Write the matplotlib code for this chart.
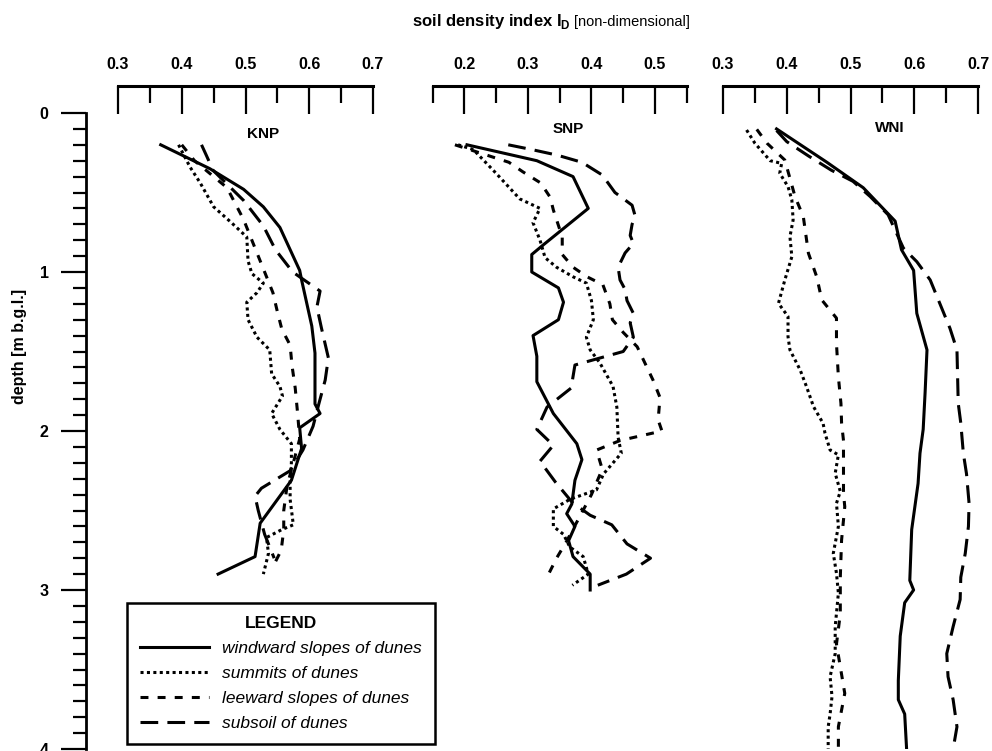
import matplotlib
matplotlib.use("Agg")
import matplotlib.pyplot as plt
from matplotlib.ticker import FixedLocator, MultipleLocator

plt.rcParams['font.family'] = ['Liberation Sans', 'DejaVu Sans']
plt.rcParams['mathtext.fontset'] = 'custom'
plt.rcParams['mathtext.rm'] = 'Liberation Sans'

sites = ["KNP", "SNP", "WNI"]
series_names = ["windward slopes of dunes", "summits of dunes",
                "leeward slopes of dunes", "subsoil of dunes"]

# --- KNP ---
knp_wind_d = [0.2, 0.35, 0.48, 0.59, 0.72, 0.99, 1.05, 1.34, 1.51, 1.83, 1.89, 1.98, 2.11, 2.31, 2.58, 2.79, 2.9]
knp_wind_v = [0.367, 0.444, 0.497, 0.528, 0.554, 0.585, 0.588, 0.604, 0.609, 0.609, 0.617, 0.585, 0.588, 0.572, 0.523, 0.515, 0.457]
knp_sum_d = [0.2, 0.34, 0.44, 0.59, 0.69, 0.78, 0.93, 1.01, 1.07, 1.13, 1.19, 1.3, 1.41, 1.49, 1.64, 1.72, 1.78, 1.89,
             1.99, 2.08, 2.2, 2.31, 2.43, 2.59, 2.62, 2.67, 2.77, 2.9]
knp_sum_v = [0.395, 0.413, 0.429, 0.45, 0.478, 0.502, 0.504, 0.51, 0.528, 0.518, 0.502, 0.504, 0.518, 0.538, 0.541,
             0.554, 0.558, 0.541, 0.554, 0.572, 0.572, 0.57, 0.57, 0.575, 0.557, 0.533, 0.536, 0.528]
knp_lee_d = [0.2, 0.3, 0.47, 0.67, 0.85, 1.0, 1.13, 1.25, 1.36, 1.46, 1.59, 1.73, 1.9, 2.05, 2.2, 2.35, 2.5, 2.62, 2.75, 2.87]
knp_lee_v = [0.40, 0.42, 0.471, 0.497, 0.515, 0.53, 0.543, 0.55, 0.557, 0.57, 0.573, 0.578, 0.582, 0.585, 0.575, 0.565,
             0.56, 0.56, 0.556, 0.541]
knp_sub_d = [0.2, 0.27, 0.36, 0.55, 0.71, 0.86, 1.0, 1.12, 1.22, 1.35, 1.54, 1.68, 1.83, 1.97, 2.12, 2.25, 2.36, 2.41,
             2.5, 2.65, 2.8]
knp_sub_v = [0.431, 0.439, 0.449, 0.497, 0.528, 0.547, 0.574, 0.617, 0.612, 0.619, 0.63, 0.625, 0.615, 0.606, 0.59,
             0.57, 0.525, 0.515, 0.52, 0.53, 0.545]

# --- SNP ---
snp_wind_d = [0.2, 0.3, 0.4, 0.6, 0.83, 0.89, 1.0, 1.1, 1.19, 1.3, 1.4, 1.53, 1.69, 1.89, 2.08, 2.18, 2.31, 2.46,
              2.52, 2.6, 2.69, 2.79, 2.9, 3.0]
snp_wind_v = [0.204, 0.314, 0.371, 0.395, 0.324, 0.306, 0.306, 0.348, 0.356, 0.348, 0.308, 0.314, 0.314, 0.34,
              0.377, 0.385, 0.374, 0.369, 0.361, 0.374, 0.364, 0.371, 0.398, 0.398]
snp_sum_d = [0.2, 0.23, 0.38, 0.54, 0.6, 0.69, 0.8, 0.91, 0.97, 1.03, 1.07, 1.18, 1.3, 1.41, 1.49, 1.57, 1.72, 1.85,
             2.04, 2.14, 2.27, 2.37, 2.43, 2.49, 2.6, 2.65, 2.73, 2.79, 2.9, 2.97]
snp_sum_v = [0.19, 0.214, 0.25, 0.287, 0.319, 0.308, 0.319, 0.327, 0.345, 0.371, 0.392, 0.40, 0.403, 0.392, 0.398,
             0.413, 0.434, 0.44, 0.442, 0.447, 0.419, 0.408, 0.366, 0.34, 0.34, 0.356, 0.366, 0.387, 0.395, 0.37]
snp_lee_d = [0.2, 0.31, 0.37, 0.44, 0.53, 0.61, 0.78, 0.89, 0.97, 1.03, 1.08, 1.2, 1.3, 1.38, 1.47, 1.68, 1.79, 1.93,
             2.0, 2.06, 2.12, 2.24, 2.4, 2.55, 2.7, 2.8, 2.92]
snp_lee_v = [0.185, 0.27, 0.292, 0.32, 0.335, 0.34, 0.354, 0.354, 0.371, 0.393, 0.418, 0.429, 0.433, 0.45, 0.472,
             0.497, 0.508, 0.505, 0.511, 0.445, 0.408, 0.417, 0.40, 0.38, 0.36, 0.345, 0.33]
snp_sub_d = [0.2, 0.23, 0.265, 0.31, 0.39, 0.5, 0.58, 0.65, 0.7, 0.77, 0.82, 0.88, 0.97, 1.05, 1.11, 1.18, 1.26, 1.32,
             1.41, 1.5, 1.585, 1.73, 1.85, 1.99, 2.09, 2.19, 2.32, 2.45, 2.53, 2.59, 2.71, 2.8, 2.9, 2.97]
snp_sub_v = [0.269, 0.306, 0.346, 0.385, 0.417, 0.437, 0.464, 0.469, 0.464, 0.461, 0.466, 0.453, 0.442, 0.445, 0.453,
             0.456, 0.466, 0.461, 0.466, 0.45, 0.374, 0.368, 0.33, 0.314, 0.34, 0.319, 0.343, 0.37, 0.398, 0.432,
             0.456, 0.493, 0.455, 0.41]

# --- WNI ---
wni_wind_d = [0.1, 0.31, 0.47, 0.68, 0.86, 0.99, 1.26, 1.49, 1.76, 1.99, 2.14, 2.33, 2.62, 2.94, 3.0, 3.08, 3.29,
              3.57, 3.69, 3.78, 4.0]
wni_wind_v = [0.384, 0.463, 0.52, 0.57, 0.58, 0.599, 0.604, 0.62, 0.617, 0.614, 0.609, 0.606, 0.596, 0.593, 0.599,
              0.585, 0.578, 0.575, 0.575, 0.585, 0.588]
wni_sum_d = [0.107, 0.19, 0.3, 0.317, 0.379, 0.463, 0.547, 0.673, 0.778, 0.904, 1.05, 1.197, 1.28, 1.407, 1.49,
             1.616, 1.721, 1.847, 1.952, 2.014, 2.12, 2.15, 2.266, 2.38, 2.455, 2.6, 2.77, 2.895, 3.02, 3.23, 3.4,
             3.545, 3.67, 3.78, 3.86, 4.0]
wni_sum_v = [0.337, 0.35, 0.374, 0.392, 0.389, 0.402, 0.408, 0.41, 0.405, 0.408, 0.397, 0.387, 0.402, 0.402, 0.405,
             0.421, 0.431, 0.442, 0.457, 0.46, 0.468, 0.481, 0.476, 0.484, 0.478, 0.481, 0.473, 0.478, 0.481, 0.476,
             0.476, 0.468, 0.471, 0.468, 0.465, 0.465]
wni_lee_d = [0.103, 0.19, 0.296, 0.526, 0.652, 0.882, 1.03, 1.176, 1.29, 1.45, 1.66, 1.826, 1.95, 2.06, 2.16, 2.39,
             2.476, 2.686, 2.92, 3.15, 3.34, 3.65, 3.755, 3.86, 4.0]
wni_lee_v = [0.353, 0.369, 0.397, 0.413, 0.426, 0.434, 0.447, 0.455, 0.478, 0.478, 0.481, 0.485, 0.486, 0.489, 0.489,
             0.489, 0.491, 0.486, 0.484, 0.484, 0.478, 0.491, 0.486, 0.481, 0.481]
wni_sub_d = [0.11, 0.18, 0.27, 0.36, 0.43, 0.526, 0.64, 0.85, 0.935, 1.05, 1.197, 1.354, 1.49, 1.658, 1.826, 1.95,
             2.14, 2.27, 2.455, 2.6, 2.77, 2.92, 3.06, 3.23, 3.4, 3.545, 3.69, 3.86, 4.0]
wni_sub_v = [0.384, 0.40, 0.434, 0.47, 0.504, 0.531, 0.559, 0.583, 0.604, 0.625, 0.64, 0.656, 0.667, 0.668, 0.669,
             0.673, 0.677, 0.682, 0.686, 0.685, 0.68, 0.673, 0.672, 0.661, 0.651, 0.653, 0.661, 0.667, 0.661]

data = {
    "KNP": [(knp_wind_v, knp_wind_d), (knp_sum_v, knp_sum_d), (knp_lee_v, knp_lee_d), (knp_sub_v, knp_sub_d)],
    "SNP": [(snp_wind_v, snp_wind_d), (snp_sum_v, snp_sum_d), (snp_lee_v, snp_lee_d), (snp_sub_v, snp_sub_d)],
    "WNI": [(wni_wind_v, wni_wind_d), (wni_sum_v, wni_sum_d), (wni_lee_v, wni_lee_d), (wni_sub_v, wni_sub_d)],
}

# x ranges and ticks of the three panels
x_lims = {"KNP": (0.3, 0.7), "SNP": (0.15, 0.55), "WNI": (0.3, 0.7)}
major_ticks = {"KNP": [0.3, 0.4, 0.5, 0.6, 0.7], "SNP": [0.2, 0.3, 0.4, 0.5], "WNI": [0.3, 0.4, 0.5, 0.6, 0.7]}
minor_ticks = {"KNP": [0.35, 0.45, 0.55, 0.65], "SNP": [0.15, 0.25, 0.35, 0.45, 0.55], "WNI": [0.35, 0.45, 0.55, 0.65]}
label_pos = {"KNP": (0.527, 0.13), "SNP": (0.363, 0.10), "WNI": (0.562, 0.094)}

styles = ["-", (0, (1.0, 1.1)), (0, (2.6, 3.0)), (0, (5.8, 3.0))]

W, H = 992, 751
fig = plt.figure(figsize=(W / 100, H / 100), dpi=100)
panel_px = {"KNP": (118, 373), "SNP": (432.7, 686.7), "WNI": (723, 978)}
y_top, y_bot = 113, 749

axes = []
for site in sites:
    l, r = panel_px[site]
    ax = fig.add_axes([l / W, 1 - y_bot / H, (r - l) / W, (y_bot - y_top) / H])
    ax.patch.set_visible(False)
    for (v, d), ls in zip(data[site], styles):
        ax.plot(v, d, color="black", lw=2.2, linestyle=ls, dash_capstyle="butt")
    ax.set_xlim(*x_lims[site])
    ax.set_ylim(4, 0)
    for s in ["bottom", "right", "left"]:
        ax.spines[s].set_visible(False)
    ax.spines["top"].set_position(("outward", 19.8))
    ax.spines["top"].set_linewidth(2.2)
    ax.xaxis.tick_top()
    ax.set_xticks(major_ticks[site], labels=["%.1f" % t for t in major_ticks[site]],
                  fontweight="bold", fontsize=11.5)
    ax.xaxis.set_minor_locator(FixedLocator(minor_ticks[site]))
    ax.tick_params(axis="x", which="major", direction="in", length=20, width=1.6, pad=10)
    ax.tick_params(axis="x", which="minor", direction="in", length=12, width=1.6)
    ax.tick_params(axis="y", which="both", left=False, labelleft=False)
    lx, ly = label_pos[site]
    ax.text(lx, ly, site, ha="center", va="center", fontsize=11, fontweight="bold")
    axes.append(ax)

ax1 = axes[0]
ax1.spines["left"].set_visible(True)
ax1.spines["left"].set_position(("outward", 23))
ax1.spines["left"].set_linewidth(2.0)
ax1.set_yticks([0, 1, 2, 3, 4], labels=["0", "1", "2", "3", "4"], fontweight="bold", fontsize=11.5)
ax1.yaxis.set_minor_locator(MultipleLocator(0.1))
ax1.tick_params(axis="y", which="major", left=True, labelleft=True, direction="out", length=18, width=1.6, pad=9)
ax1.tick_params(axis="y", which="minor", left=True, direction="out", length=9.4, width=1.6)

fig.text(20 / W, 1 - 346 / H, "depth [m b.g.l.]", rotation=90, ha="center", va="center",
         fontsize=11.5, fontweight="bold")

# title in two parts, centred over the panels
yb = 1 - 26 / H
t1 = fig.text(0, yb, r"soil density index I$_\mathregular{D}$", fontweight="bold", fontsize=12, va="baseline")
t2 = fig.text(0, yb, "[non-dimensional]", fontsize=10.5, va="baseline")
fig.canvas.draw()
rend = fig.canvas.get_renderer()
w1 = t1.get_window_extent(rend).width
w2 = t2.get_window_extent(rend).width
x0 = 551 - (w1 + 4 + w2) / 2
t1.set_x(x0 / W)
t2.set_x((x0 + w1 + 4) / W)

handles = ax1.get_lines()[:4]
leg = fig.legend(handles, series_names, loc="upper left", bbox_to_anchor=(127 / W, 1 - 603 / H),
                 bbox_transform=fig.transFigure, borderaxespad=0, title="LEGEND",
                 frameon=True, fancybox=False, edgecolor="black", framealpha=1,
                 borderpad=0.75, handlelength=4.0, handletextpad=0.75, labelspacing=0.57,
                 prop={"style": "italic", "size": 12.5},
                 title_fontproperties={"weight": "bold", "size": 12.5})
leg.get_frame().set_linewidth(1.8)

fig.savefig("out.png", dpi=100)
